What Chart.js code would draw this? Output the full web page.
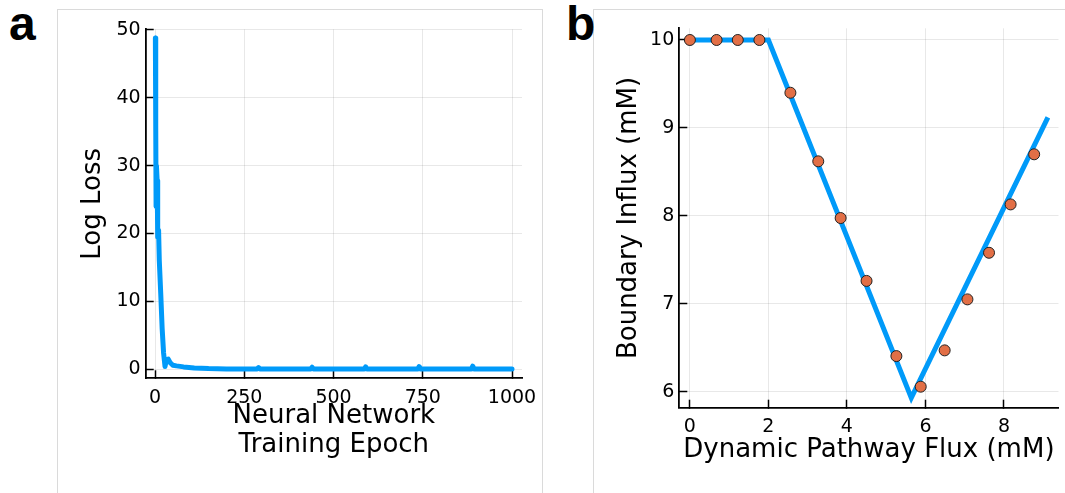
<!DOCTYPE html>
<html>
<head>
<meta charset="utf-8">
<script src="https://cdn.jsdelivr.net/npm/chart.js@4/dist/chart.umd.min.js"></script>
<style>
  body { margin: 0; background: #fff; }
  #wrap { position: relative; width: 1065px; height: 493px; overflow: hidden; }
  .frame { position: absolute; border: 1px solid #dadada; background: #fff; }
  .tag { position: absolute; font: bold 48px "Liberation Sans", Arial, sans-serif; line-height: 1; color: #000; }
  canvas { position: absolute; left: 0; top: 0; }
</style>
</head>
<body>
<div id="wrap">
  <div class="frame" style="left:57px;top:9px;width:484px;height:500px;"></div>
  <div class="frame" style="left:593px;top:9px;width:500px;height:500px;"></div>
  <div class="tag" style="left:9px;top:0px;">a</div>
  <div class="tag" style="left:566px;top:0px;">b</div>
  <canvas id="lossChart" width="1065" height="493"></canvas>
  <canvas id="fluxChart" width="1065" height="493"></canvas>
</div>
<script>
// panel a: training loss
const epochs = [1, 2, 3, 4, 6, 7, 8, 10, 12, 16, 20, 24, 28, 32, 37, 42, 50, 60, 80, 110, 150, 200, 250,
                286, 290, 294, 436, 440, 444, 586, 590, 594, 736, 740, 744, 886, 890, 894, 1000];
const logLoss = [48.8, 36, 24, 30, 27.8, 21, 19.5, 20.5, 16, 11.2, 6, 2.4, 0.4, 1.4, 1.5, 1.0, 0.6, 0.5, 0.35, 0.2, 0.1, 0.05, 0.03,
                 0.03, 0.25, 0.03, 0.03, 0.3, 0.03, 0.03, 0.35, 0.03, 0.03, 0.4, 0.03, 0.03, 0.45, 0.03, 0.03];
const epochTicks = [0, 250, 500, 750, 1000];
const lossTicks = [0, 10, 20, 30, 40, 50];

// panel b: fitted curve + observations
const fitFlux = [0, 2, 5.64, 9.12];
const fitInflux = [10, 10, 5.93, 9.12];
const obsFlux = [0, 0.68, 1.22, 1.77, 2.56, 3.27, 3.84, 4.50, 5.26, 5.88, 6.49, 7.07, 7.62, 8.17, 8.77];
const obsInflux = [10, 10, 10, 10, 9.40, 8.62, 7.975, 7.26, 6.405, 6.057, 6.47, 7.05, 7.58, 8.13, 8.70];
const fluxTicks = [0, 2, 4, 6, 8];
const influxTicks = [6, 7, 8, 9, 10];

const blue = '#009af9';
const orange = '#e26f46';
const fontFam = '"DejaVu Sans", sans-serif';

function toXY(xs, ys) {
  return xs.map((x, i) => ({ x: x, y: ys[i] }));
}

function axis(opts) {
  return {
    type: 'linear',
    min: opts.min,
    max: opts.max,
    afterBuildTicks: (s) => { s.ticks = opts.ticks.map(v => ({ value: v })); },
    afterFit: (s) => {
      if (s.isHorizontal()) s.height = opts.size; else s.width = opts.size;
    },
    ticks: {
      color: '#000',
      padding: opts.horizontal ? 16 : 13,
      maxRotation: 0,
      autoSkip: false,
      callback: (v) => String(v),
      font: { family: fontFam, size: 19 }
    },
    grid: {
      color: 'rgba(0,0,0,0.09)',
      lineWidth: 1,
      tickLength: -8,
      tickColor: '#000',
      tickWidth: 1.5
    },
    border: { color: '#000', width: 1.8 },
    title: {
      display: true,
      text: opts.title,
      color: '#000',
      padding: 0,
      font: { family: fontFam, size: 26, lineHeight: opts.lh || 1.2 }
    }
  };
}

const commonOpts = {
  responsive: false,
  animation: false,
  events: [],
  plugins: { legend: { display: false }, tooltip: { enabled: false } }
};

new Chart(document.getElementById('lossChart'), {
  type: 'scatter',
  data: {
    datasets: [{
      data: toXY(epochs, logLoss),
      showLine: true,
      borderColor: blue,
      borderWidth: 5,
      borderJoinStyle: 'round',
      borderCapStyle: 'round',
      pointRadius: 0
    }]
  },
  options: Object.assign({}, commonOpts, {
    layout: { padding: { left: 78, top: 29.3, right: 543, bottom: 33.7 } },
    scales: {
      x: axis({ min: -26.1, max: 1028, ticks: epochTicks, size: 81, horizontal: true,
                title: ['Neural Network', 'Training Epoch'], lh: 1.1 }),
      y: axis({ min: -1.33, max: 50.1, ticks: lossTicks, size: 67.7, title: 'Log Loss' })
    }
  })
});

new Chart(document.getElementById('fluxChart'), {
  type: 'scatter',
  data: {
    datasets: [{
      data: toXY(obsFlux, obsInflux),
      pointRadius: 5.5,
      pointBackgroundColor: orange,
      pointBorderColor: '#222',
      pointBorderWidth: 1,
      order: 0
    }, {
      data: toXY(fitFlux, fitInflux),
      showLine: true,
      borderColor: blue,
      borderWidth: 5,
      pointRadius: 0,
      order: 1
    }]
  },
  options: Object.assign({}, commonOpts, {
    layout: { padding: { left: 614, top: 28.3, right: 6, bottom: 28.7 } },
    scales: {
      x: axis({ min: -0.27, max: 9.39, ticks: fluxTicks, size: 56.6, horizontal: true,
                title: 'Dynamic Pathway Flux (mM)', lh: 1.1 }),
      y: axis({ min: 5.818, max: 10.133, ticks: influxTicks, size: 65.3, title: 'Boundary Influx (mM)' })
    }
  })
});
</script>
</body>
</html>
